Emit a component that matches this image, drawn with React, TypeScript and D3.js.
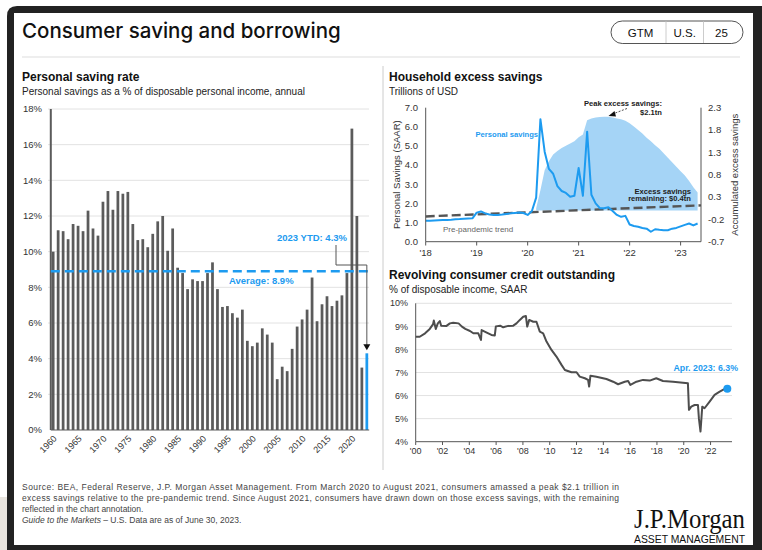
import React from 'react';
import * as d3 from 'd3';

const FONT = "'Liberation Sans', Arial, Helvetica, sans-serif";
const BLUE = '#1d9bf0';
const AREA = '#a5d4f6';
const BAR = '#5b5b5b';
const AXIS = '#555555';
const GRID = '#e2e2e2';
const TXT = '#333333';

// ---------- Personal saving rate (annual, %) ----------
const savingStartYear = 1960;
const savingRate = [
  10.0, 11.2, 11.15, 10.7, 11.55, 11.45, 11.15, 12.3, 11.3, 10.9,
  12.8, 13.4, 12.35, 13.4, 13.25, 13.35, 11.55, 10.65, 10.7, 10.25,
  11.0, 11.7, 12.0, 10.05, 11.3, 9.1, 8.8, 7.9, 8.45, 8.35,
  8.35, 8.8, 9.4, 7.9, 6.9, 6.95, 6.55, 6.3, 6.75, 5.0,
  4.7, 4.9, 5.7, 5.35, 4.9, 2.85, 3.55, 3.3, 4.55, 5.8,
  6.2, 6.75, 8.55, 6.1, 7.05, 7.5, 6.95, 7.25, 7.55, 8.8,
  16.9, 12.0, 3.5, 4.3,
];
const savingYears = savingRate.map((_, i) => savingStartYear + i);
const savingYTicks = [0, 2, 4, 6, 8, 10, 12, 14, 16, 18];
const savingXLabels = [1960, 1965, 1970, 1975, 1980, 1985, 1990, 1995, 2000, 2005, 2010, 2015, 2020];
const averageRate = 8.9;
const averageLabel = 'Average: 8.9%';
const ytdLabel = '2023 YTD: 4.3%';

// ---------- Household excess savings (monthly from Jan 2018) ----------
const psStartYear = 2018;
const personalSavings = [
  // 2018
  1.10, 1.10, 1.11, 1.12, 1.13, 1.14, 1.15, 1.17, 1.18, 1.20, 1.21, 1.22,
  // 2019
  1.52, 1.58, 1.48, 1.42, 1.40, 1.40, 1.42, 1.45, 1.48, 1.50, 1.52, 1.50,
  // 2020
  1.40, 1.60, 2.30, 6.40, 4.70, 3.80, 3.55, 2.90, 2.65, 2.55, 2.35, 2.40,
  // 2021
  3.85, 2.40, 5.75, 2.45, 2.00, 1.75, 1.75, 1.80, 1.60, 1.40, 1.30, 1.35,
  // 2022
  0.90, 0.82, 0.78, 0.72, 0.68, 0.52, 0.65, 0.62, 0.60, 0.60, 0.68, 0.72,
  // 2023
  0.80, 0.88, 0.95, 0.85, 0.95,
];
const excessStartIndex = 26; // Mar 2020
const excessSavings = [
  0.05, 0.45, 0.90, 1.10, 1.25, 1.33, 1.40, 1.45, 1.50, 1.55,
  1.64, 1.70, 2.02, 2.06, 2.08, 2.09, 2.10, 2.10, 2.08, 2.06,
  2.04, 2.01, 1.95, 1.88, 1.80, 1.72, 1.63, 1.55, 1.46, 1.38,
  1.28, 1.18, 1.08, 0.98, 0.88, 0.78, 0.66, 0.52, 0.40,
];
const trendYears = [2018, 2023.4];
const trendValues = [1.32, 1.9];
const hhLeftTicks = [0, 1, 2, 3, 4, 5, 6, 7];
const hhRightTicks = [-0.7, -0.2, 0.3, 0.8, 1.3, 1.8, 2.3];
const hhYearTicks = [2018, 2019, 2020, 2021, 2022, 2023];

// ---------- Revolving consumer credit (% of disposable income) ----------
const creditYears = [
  2000.0, 2000.3, 2000.7, 2001.05, 2001.3, 2001.35, 2001.5, 2001.65, 2001.8, 2001.9,
  2002.3, 2002.55, 2002.8, 2003.2, 2003.45, 2003.7, 2004.05, 2004.3, 2004.67, 2004.87,
  2004.92, 2005.3, 2005.65, 2005.9, 2005.98, 2006.3, 2006.53, 2006.9, 2007.28, 2007.52,
  2007.77, 2008.02, 2008.22, 2008.32, 2008.47, 2008.77, 2009.01, 2009.26, 2009.51, 2009.76,
  2010.13, 2010.5, 2010.88, 2011.13, 2011.62, 2012.0, 2012.24, 2012.62, 2012.86, 2012.94,
  2013.04, 2013.48, 2014.23, 2014.73, 2015.1, 2015.6, 2015.85, 2016.02, 2016.47, 2016.96,
  2017.46, 2017.95, 2018.45, 2019.2, 2019.94, 2020.31, 2020.39, 2020.56, 2020.81, 2021.06,
  2021.13, 2021.25, 2021.38, 2021.55, 2021.93, 2022.3, 2022.68, 2023.06, 2023.25,
];
const creditValues = [
  8.55, 8.55, 8.70, 8.89, 9.10, 9.25, 8.89, 9.13, 9.23, 9.03,
  9.02, 9.13, 9.16, 9.13, 8.99, 8.89, 8.80, 8.70, 8.70, 8.41,
  8.84, 8.73, 8.63, 8.60, 9.00, 9.03, 8.96, 9.02, 9.03, 9.13,
  9.28, 9.42, 9.45, 8.99, 9.28, 9.20, 9.20, 8.77, 8.70, 8.34,
  7.98, 7.69, 7.33, 7.11, 7.01, 7.01, 6.82, 6.75, 6.68, 6.39,
  6.86, 6.82, 6.72, 6.60, 6.49, 6.60, 6.63, 6.46, 6.60, 6.68,
  6.65, 6.75, 6.63, 6.60, 6.56, 6.53, 5.38, 5.52, 5.59, 5.59,
  5.01, 4.44, 5.52, 5.45, 5.74, 6.03, 6.17, 6.29, 6.30,
];
const creditYTicks = [4, 5, 6, 7, 8, 9, 10];
const creditXTicks = [2000, 2002, 2004, 2006, 2008, 2010, 2012, 2014, 2016, 2018, 2020, 2022];
const creditLabel = 'Apr. 2023: 6.3%';

const footerLines = [
  'Source: BEA, Federal Reserve, J.P. Morgan Asset Management. From March 2020 to August 2021, consumers amassed a peak $2.1 trillion in',
  'excess savings relative to the pre-pandemic trend. Since August 2021, consumers have drawn down on those excess savings, with the remaining',
  'reflected in the chart annotation.',
];

const yy = (y: number) => "'" + String(y).slice(2);

function SavingRate() {
  const x = d3.scaleBand<number>().domain(savingYears).range([50.8, 369.2]).paddingInner(0.45).paddingOuter(0.2);
  const xc = (yr: number) => (x(yr) as number) + x.bandwidth() / 2;
  const y = d3.scaleLinear().domain([0, 18]).range([430, 109]);
  const last = savingYears[savingYears.length - 1];
  const lastVal = savingRate[savingRate.length - 1];
  const connX = 336;
  return (
    <g fontFamily={FONT}>
      <text x={22} y={81} fontSize={12} fontWeight={700} fill="#111">Personal saving rate</text>
      <text x={22} y={94.5} fontSize={10} fill="#222">Personal savings as a % of disposable personal income, annual</text>
      {savingYTicks.map((t) => (
        <g key={t}>
          {t > 0 && <line x1={48} x2={369} y1={y(t)} y2={y(t)} stroke={GRID} strokeWidth={1} />}
          <text x={42} y={y(t)} dy="0.35em" textAnchor="end" fontSize={9.5} fill={TXT}>{t}%</text>
        </g>
      ))}
      {savingYears.map((yr, i) => (
        <rect key={yr} x={x(yr)} width={x.bandwidth()} y={y(savingRate[i])} height={y(0) - y(savingRate[i])}
          fill={yr === last ? BLUE : BAR} />
      ))}
      <line x1={50.8} x2={50.8} y1={y(18)} y2={y(0)} stroke={BAR} strokeWidth={2} />
      <line x1={50.8} x2={369.2} y1={y(0)} y2={y(0)} stroke={BAR} strokeWidth={1} />
      {savingXLabels.map((yr) => (
        <text key={yr} transform={`translate(${xc(yr) + 2},${437}) rotate(-45)`} textAnchor="end" dy="0.35em"
          fontSize={9} fill={TXT}>{yr}</text>
      ))}
      <line x1={50.8} x2={369.2} y1={y(averageRate)} y2={y(averageRate)} stroke={BLUE} strokeWidth={2.5} strokeDasharray="9 5" />
      <text x={229} y={284} fontSize={9.5} fontWeight={700} fill={BLUE}>{averageLabel}</text>
      <text x={347} y={241} textAnchor="end" fontSize={9.5} fontWeight={700} fill={BLUE}>{ytdLabel}</text>
      <polyline points={`${connX},245 ${connX},265 ${xc(last)},265 ${xc(last)},${y(lastVal) - 6}`} fill="none" stroke={AXIS} strokeWidth={1} />
      <path d={`M${xc(last) - 3.5},${y(lastVal) - 9} L${xc(last) + 3.5},${y(lastVal) - 9} L${xc(last)},${y(lastVal) - 3} Z`} fill="#111" />
    </g>
  );
}

function ExcessSavings() {
  const x = d3.scaleLinear().domain([2018, 2023.4]).range([425.7, 701]);
  const yL = d3.scaleLinear().domain([0, 7]).range([241.7, 107.7]);
  const yR = d3.scaleLinear().domain([-0.7, 2.3]).range([241.7, 107.7]);
  const monthX = (i: number) => x(psStartYear + i / 12);
  const line = d3.line<number>().x((_, i) => monthX(i)).y((d) => yL(d));
  const area = d3.area<number>().x((_, i) => monthX(i + excessStartIndex)).y0(yR(0)).y1((d) => yR(d));
  const trend = d3.line<number>().x((_, i) => x(trendYears[i])).y((d) => yL(d));
  return (
    <g fontFamily={FONT}>
      <text x={389} y={81} fontSize={12} fontWeight={700} fill="#111">Household excess savings</text>
      <text x={389} y={94.5} fontSize={10} fill="#222">Trillions of USD</text>
      {hhLeftTicks.map((t) => (
        <text key={t} x={418} y={yL(t)} dy="0.35em" textAnchor="end" fontSize={9.5} fill={TXT}>{t.toFixed(1)}</text>
      ))}
      {hhRightTicks.map((t) => (
        <text key={t} x={708} y={yR(t)} dy="0.35em" fontSize={9.5} fill={TXT}>{t.toFixed(1)}</text>
      ))}
      <path d={area(excessSavings) as string} fill={AREA} />
      <path d={trend(trendValues) as string} fill="none" stroke="#555" strokeWidth={2.4} strokeDasharray="9 4" />
      <path d={line(personalSavings) as string} fill="none" stroke={BLUE} strokeWidth={2} strokeLinejoin="round" />
      <line x1={425.7} x2={425.7} y1={107.7} y2={241.7} stroke={AXIS} strokeWidth={1} />
      <line x1={701} x2={701} y1={107.7} y2={241.7} stroke={AXIS} strokeWidth={1} />
      <line x1={425.7} x2={701} y1={241.7} y2={241.7} stroke={AXIS} strokeWidth={1} />
      {hhYearTicks.map((t) => (
        <g key={t}>
          <line x1={x(t)} x2={x(t)} y1={241.7} y2={245.5} stroke={AXIS} strokeWidth={1} />
          <text x={x(t)} y={256} textAnchor="middle" fontSize={9.5} fill={TXT}>{yy(t)}</text>
        </g>
      ))}
      <text transform={`translate(397,${174.7}) rotate(-90)`} textAnchor="middle" dy="0.35em" fontSize={9.5} fill={TXT}>Personal Savings (SAAR)</text>
      <text transform={`translate(735,${174.7}) rotate(-90)`} textAnchor="middle" dy="0.35em" fontSize={9.5} fill={TXT}>Accumulated  excess savings</text>
      <text x={538} y={137} textAnchor="end" fontSize={7.6} fontWeight={700} fill={BLUE}>Personal savings</text>
      <text x={443} y={232} fontSize={8} fill="#666">Pre-pandemic trend</text>
      <text x={662} y={106} textAnchor="end" fontSize={7.6} fontWeight={700} fill="#222">Peak excess savings:</text>
      <text x={662} y={115} textAnchor="end" fontSize={7.6} fontWeight={700} fill="#222">$2.1tn</text>
      <line x1={627} y1={108.5} x2={614} y2={113.5} stroke="#222" strokeWidth={0.8} strokeDasharray="2 1.5" />
      <path d="M608.5,116 L614.5,111 L616,116.5 Z" fill="#111" />
      <text x={691} y={193.5} textAnchor="end" fontSize={7.6} fontWeight={700} fill="#222">Excess savings</text>
      <text x={691} y={201} textAnchor="end" fontSize={7.6} fontWeight={700} fill="#222">remaining: $0.4tn</text>
    </g>
  );
}

function Credit() {
  const x = d3.scaleLinear().domain([2000, 2023.6]).range([415.7, 732]);
  const y = d3.scaleLinear().domain([4, 10]).range([441.7, 303.3]);
  const line = d3.line<number>().x((_, i) => x(creditYears[i])).y((d) => y(d));
  const lx = x(creditYears[creditYears.length - 1]);
  const ly = y(creditValues[creditValues.length - 1]);
  return (
    <g fontFamily={FONT}>
      <text x={389} y={278.5} fontSize={12} fontWeight={700} fill="#111">Revolving consumer credit outstanding</text>
      <text x={389} y={292.5} fontSize={10} fill="#222">% of disposable income, SAAR</text>
      {creditYTicks.map((t) => (
        <g key={t}>
          {t > 4 && <line x1={415.7} x2={732} y1={y(t)} y2={y(t)} stroke={GRID} strokeWidth={1} />}
          <text x={408} y={y(t)} dy="0.35em" textAnchor="end" fontSize={9} fill={TXT}>{t}%</text>
        </g>
      ))}
      <path d={line(creditValues) as string} fill="none" stroke="#4d4d4d" strokeWidth={2} strokeLinejoin="round" />
      <line x1={415.7} x2={415.7} y1={303.3} y2={441.7} stroke={AXIS} strokeWidth={1} />
      <line x1={415.7} x2={732} y1={441.7} y2={441.7} stroke={AXIS} strokeWidth={1} />
      {creditXTicks.map((t) => (
        <g key={t}>
          <line x1={x(t)} x2={x(t)} y1={441.7} y2={445} stroke={AXIS} strokeWidth={1} />
          <text x={x(t)} y={454} textAnchor="middle" fontSize={9} fill={TXT}>{yy(t)}</text>
        </g>
      ))}
      <circle cx={lx} cy={ly} r={4} fill={BLUE} />
      <text x={738} y={371} textAnchor="end" fontSize={8.8} fontWeight={700} fill={BLUE}>{creditLabel}</text>
    </g>
  );
}

export default function App() {
  return (
    <svg width={762} height={550} style={{ position: 'absolute', left: 0, top: 0, display: 'block' }}>
      <rect x={0} y={0} width={762} height={550} fill="#ffffff" />
      <rect x={0} y={497} width={8} height={53} fill="#e9e5df" />
      <path d="M7,16 Q7,6 17,6 L762,6 L762,550 L7,550 Z" fill="#222" />
      <rect x={14} y={13} width={739} height={532} fill="#ffffff" />
      {/* header */}
      <text x={22} y={38} fontFamily="Inter, 'Liberation Sans', Arial, sans-serif" fontSize={20.5} fontWeight={500} fill="#111">Consumer saving and borrowing</text>
      <rect x={611} y={21} width={132} height={22.5} rx={11.25} fill="#fff" stroke="#555" strokeWidth={1} />
      <line x1={666} x2={666} y1={21.5} y2={43} stroke="#ccc" strokeWidth={1} />
      <line x1={703.5} x2={703.5} y1={21.5} y2={43} stroke="#ccc" strokeWidth={1} />
      <g fontFamily={FONT} fontSize={11.5} fill="#111" textAnchor="middle">
        <text x={640.5} y={36.5}>GTM</text>
        <text x={684.7} y={36.5}>U.S.</text>
        <text x={721.5} y={36.5}>25</text>
      </g>
      <line x1={22} x2={740} y1={57} y2={57} stroke="#ddd" strokeWidth={1} />
      <line x1={383} x2={383} y1={66} y2={470} stroke="#ccc" strokeWidth={1} />
      <SavingRate />
      <ExcessSavings />
      <Credit />
      {/* footer */}
      <g fontFamily={FONT} fontSize={8.5} fill="#444">
        <text x={22} y={489.5} textLength={597} lengthAdjust="spacing">{footerLines[0]}</text>
        <text x={22} y={500.5} textLength={597} lengthAdjust="spacing">{footerLines[1]}</text>
        <text x={22} y={511.5}>{footerLines[2]}</text>
        <text x={22} y={522.5}><tspan fontStyle="italic">Guide to the Markets</tspan> – U.S. Data are as of June 30, 2023.</text>
      </g>
      <text x={634} y={528} fontFamily="'Liberation Serif', 'Times New Roman', serif" fontSize={27} fill="#111" textLength={111} lengthAdjust="spacingAndGlyphs">J.P.Morgan</text>
      <text x={634} y={543} fontFamily={FONT} fontSize={10} fill="#111" textLength={111} lengthAdjust="spacingAndGlyphs">ASSET MANAGEMENT</text>
    </svg>
  );
}
